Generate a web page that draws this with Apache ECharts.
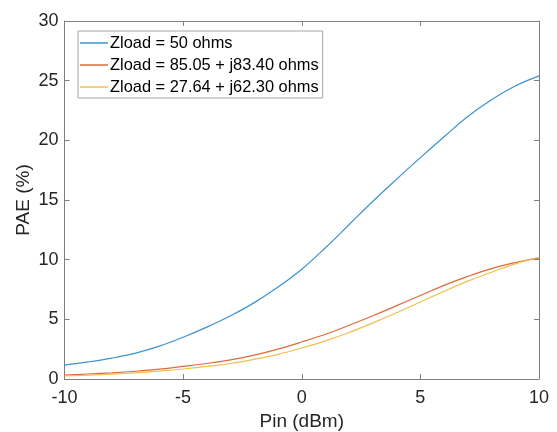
<!DOCTYPE html>
<html>
<head>
<meta charset="utf-8">
<script src="https://cdn.jsdelivr.net/npm/echarts@6/dist/echarts.min.js"></script>
<style>html,body{margin:0;padding:0;background:#fff}#c{width:557px;height:432px}</style>
</head>
<body>
<div id="c"></div>
<script>
var pin = [-10,-9,-8,-7,-6,-5,-4,-3,-2,-1,0,1,2,3,4,5,6,7,8,9,10];
var pae50 = [1.17,1.43,1.75,2.17,2.75,3.5,4.35,5.3,6.4,7.7,9.2,11.0,12.95,14.9,16.75,18.55,20.3,22.0,23.4,24.55,25.4];
var paeA = [0.33,0.42,0.52,0.65,0.82,1.05,1.3,1.6,2.0,2.5,3.1,3.75,4.5,5.3,6.15,7.0,7.85,8.6,9.25,9.75,10.15];
var paeB = [0.25,0.32,0.41,0.52,0.66,0.84,1.05,1.3,1.65,2.07,2.6,3.2,3.9,4.7,5.55,6.45,7.35,8.2,8.95,9.65,10.2];
var names = ['Zload = 50 ohms','Zload = 85.05 + j83.40 ohms','Zload = 27.64 + j62.30 ohms'];
var xTicks = [-10,-5,0,5,10];
var yTicks = [0,5,10,15,20,25,30];

function pairs(ys){ return pin.map(function(x,i){ return [x, ys[i]]; }); }
var colors = ['#3b93d1','#de6a3b','#f0bf4c'];
var font = 'Liberation Sans, Arial, sans-serif';
var axisColor = '#7f7f7f';
var textColor = '#262626';

function xAx(pos, show){
  return {type:'value', position:pos, min:xTicks[0], max:xTicks[xTicks.length-1], interval:5,
    axisLine:{show:true, onZero:false, lineStyle:{color:axisColor, width:1}},
    axisTick:{show:true, inside:true, length:5, lineStyle:{color:axisColor}},
    axisLabel:{show:show, color:textColor, fontSize:18, fontFamily:font, margin:10},
    splitLine:{show:false},
    name: show ? 'Pin (dBm)' : '', nameLocation:'middle', nameGap:33, nameMoveOverlap:false,
    nameTextStyle:{color:textColor, fontSize:19, fontFamily:font}};
}
function yAx(pos, show){
  return {type:'value', position:pos, min:yTicks[0], max:yTicks[yTicks.length-1], interval:5,
    axisLine:{show:true, onZero:false, lineStyle:{color:axisColor, width:1}},
    axisTick:{show:true, inside:true, length:5, lineStyle:{color:axisColor}},
    axisLabel:{show:show, color:textColor, fontSize:18, fontFamily:font, margin:6},
    splitLine:{show:false},
    name: show ? 'PAE (%)' : '', nameLocation:'middle', nameGap:31, nameMoveOverlap:false,
    nameTextStyle:{color:textColor, fontSize:19, fontFamily:font}};
}

var series = [pae50, paeA, paeB].map(function(d,i){
  return {name:names[i], type:'line', data:pairs(d), smooth:0.4, showSymbol:false,
    symbol:'none', xAxisIndex:0, yAxisIndex:0,
    lineStyle:{color:colors[i], width:1.2}, itemStyle:{color:colors[i]}};
});

var chart = echarts.init(document.getElementById('c'), null, {renderer:'canvas'});
chart.setOption({
  animation:false,
  backgroundColor:'#fff',
  grid:{left:64.5, right:18, top:21, bottom:53, containLabel:false, outerBoundsMode:'none'},
  xAxis:[xAx('bottom', true), xAx('top', false)],
  yAxis:[yAx('left', true), yAx('right', false)],
  legend:{show:true, orient:'vertical', left:78, top:31,
    data:names.map(function(n,i){ return {name:n, icon:'rect', itemStyle:{color:colors[i]}}; }),
    itemWidth:28, itemHeight:1.5, itemGap:6,
    padding:[4,4,3,2], backgroundColor:'#fff',
    borderColor:'#a6a6a6', borderWidth:1, borderRadius:0,
    textStyle:{color:'#000', fontSize:16.4, fontFamily:font, padding:[0,0,0,-3]}},
  series:series
});
</script>
</body>
</html>
